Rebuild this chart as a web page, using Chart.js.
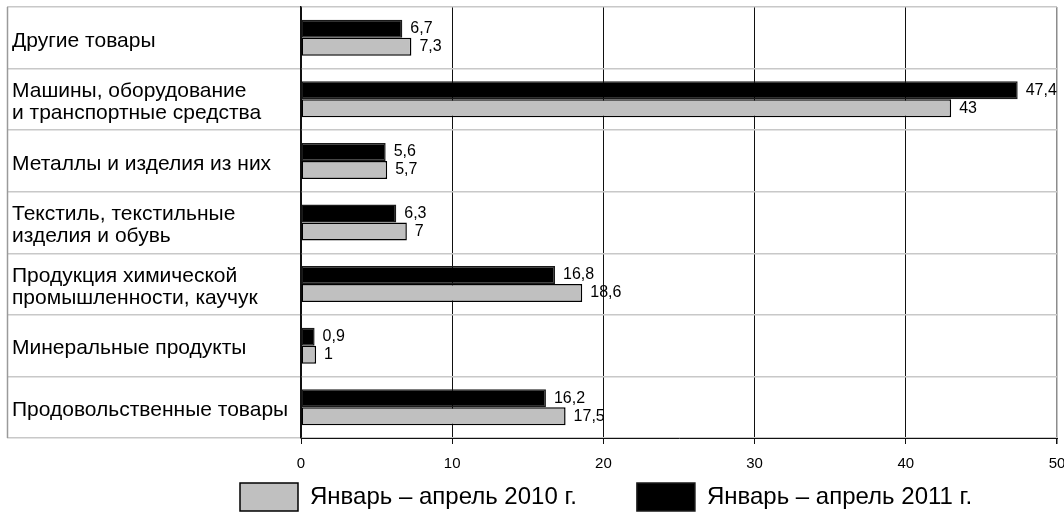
<!DOCTYPE html>
<html lang="ru">
<head>
<meta charset="utf-8">
<title>Структура импорта</title>
<script src="https://cdn.jsdelivr.net/npm/chart.js@4.4.1/dist/chart.umd.min.js"></script>
<style>
  html, body { margin: 0; padding: 0; background: #ffffff; }
  #wrap { width: 1064px; height: 512px; }
</style>
</head>
<body>
<div id="wrap"><canvas id="chart" width="1064" height="512"></canvas></div>
<script>
// Commodity groups, top to bottom
const categories = [
  ['Другие товары'],
  ['Машины, оборудование', 'и транспортные средства'],
  ['Металлы и изделия из них'],
  ['Текстиль, текстильные', 'изделия и обувь'],
  ['Продукция химической', 'промышленности, каучук'],
  ['Минеральные продукты'],
  ['Продовольственные товары']
];
// Shares, %
const values2011 = [6.7, 47.4, 5.6, 6.3, 16.8, 0.9, 16.2];
const values2010 = [7.3, 43, 5.7, 7, 18.6, 1, 17.5];
const seriesNames = ['Январь – апрель 2010 г.', 'Январь – апрель 2011 г.'];
// Value axis
const axisMin = 0;
const axisMax = 50;
const axisStep = 10;

const FONT = 'Liberation Sans, Arial, Helvetica, sans-serif';
const LABEL_BOX_TICK = 294;     // horizontal rules reach across the category column
const LEGEND_AT = { x: 240, y: 483 };

const fmt = v => String(v).replace('.', ',');

// Value labels next to the end of each bar
const valueLabels = {
  id: 'valueLabels',
  afterDatasetsDraw(chart) {
    const ctx = chart.ctx;
    ctx.save();
    ctx.font = '16px ' + FONT;
    ctx.fillStyle = '#000';
    ctx.textAlign = 'left';
    ctx.textBaseline = 'middle';
    chart.data.datasets.forEach((ds, di) => {
      const meta = chart.getDatasetMeta(di);
      meta.data.forEach((bar, i) => {
        ctx.fillText(fmt(ds.data[i]), bar.x + 8, bar.y);
      });
    });
    ctx.restore();
  }
};

// Left edge of the category column
const labelFrame = {
  id: 'labelFrame',
  beforeDatasetsDraw(chart) {
    const y = chart.scales.y;
    const x = Math.round(y.right - LABEL_BOX_TICK) + 0.5;
    const ctx = chart.ctx;
    ctx.save();
    ctx.strokeStyle = '#9a9a9a';
    ctx.lineWidth = 1.5;
    ctx.beginPath();
    ctx.moveTo(x, chart.chartArea.top);
    ctx.lineTo(x, chart.chartArea.bottom);
    ctx.stroke();
    ctx.restore();
  }
};

// Legend row placed under the value axis
const legendPlacement = {
  id: 'legendPlacement',
  afterLayout(chart) {
    const lg = chart.legend;
    if (!lg) return;
    const pad = lg.options.labels.padding;
    lg.left = LEGEND_AT.x - pad;
    lg.right = chart.width;
    lg.width = lg.right - lg.left;
    lg.top = LEGEND_AT.y - pad;
    lg.bottom = chart.height;
    lg.height = lg.bottom - lg.top;
  }
};

new Chart(document.getElementById('chart'), {
  type: 'bar',
  data: {
    labels: categories,
    datasets: [
      {
        label: seriesNames[1],
        data: values2011,
        backgroundColor: '#000000',
        borderColor: '#1a1a1a',
        borderWidth: 1.5,
        borderSkipped: false,
        categoryPercentage: 0.585,
        barPercentage: 1.0
      },
      {
        label: seriesNames[0],
        data: values2010,
        backgroundColor: '#c0c0c0',
        borderColor: '#000000',
        borderWidth: 1.5,
        borderSkipped: false,
        categoryPercentage: 0.585,
        barPercentage: 1.0
      }
    ]
  },
  options: {
    indexAxis: 'y',
    responsive: false,
    animation: false,
    layout: { padding: { left: 12, top: 7, right: 7, bottom: 0 } },
    scales: {
      x: {
        type: 'linear',
        min: axisMin,
        max: axisMax,
        ticks: {
          stepSize: axisStep,
          color: '#000',
          font: { family: FONT, size: 15 },
          padding: 11
        },
        grid: {
          color: c => (c.tick && c.tick.value === axisMax) ? '#8c8c8c' : '#111111',
          lineWidth: c => (c.tick && c.tick.value === axisMax) ? 1.5 : 1,
          tickColor: '#111111',
          tickLength: 6
        },
        border: { color: '#111111', width: 1 },
        afterFit(scale) {
          scale.height = 34;
          scale.paddingLeft = 0;
          scale.paddingRight = 0;
        }
      },
      y: {
        type: 'category',
        offset: true,
        ticks: {
          crossAlign: 'far',
          labelOffset: 3,
          color: '#000',
          font: { family: FONT, size: 21, lineHeight: 1.05 }
        },
        grid: {
          offset: true,
          color: '#c8c8c8',
          lineWidth: 1.5,
          tickColor: '#c8c8c8',
          tickLength: LABEL_BOX_TICK
        },
        border: { color: '#111111', width: 1.5 },
        afterFit(scale) {
          scale.width = 289;
          scale.paddingTop = 0;
          scale.paddingBottom = 0;
        }
      }
    },
    plugins: {
      legend: {
        position: 'bottom',
        align: 'start',
        reverse: true,
        maxHeight: 40,
        labels: {
          boxWidth: 58,
          boxHeight: 28,
          padding: 60,
          color: '#000',
          font: { family: FONT, size: 24 }
        }
      },
      tooltip: { enabled: false }
    }
  },
  plugins: [valueLabels, labelFrame, legendPlacement]
});
</script>
</body>
</html>
